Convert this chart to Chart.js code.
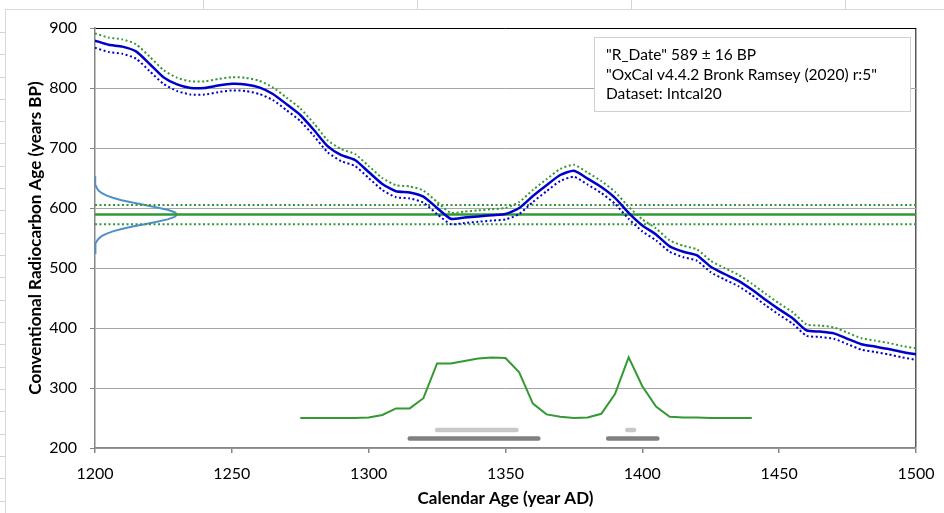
<!DOCTYPE html>
<html>
<head>
<meta charset="utf-8">
<script src="https://cdn.jsdelivr.net/npm/chart.js@4.4.0/dist/chart.umd.min.js"></script>
<style>
body { margin: 0; width: 944px; height: 513px; overflow: hidden; background: #fff; position: relative; }
.vline { position: absolute; top: 0; width: 1px; height: 9px; background: #d4d4d4; }
.hline { position: absolute; left: 0; width: 5px; height: 1px; background: #d4d4d4; }
#wrap { position: absolute; left: 5px; top: 9px; width: 939px; height: 504px; box-sizing: border-box;
	border-left: 1px solid #d9d9d9; border-top: 1px solid #d9d9d9; background: #fff; }
</style>
</head>
<body>
<div class="vline" style="left:203px"></div>
<div class="vline" style="left:417px"></div>
<div class="vline" style="left:631px"></div>
<div class="vline" style="left:845px"></div>
<div class="hline" style="top:32px"></div>
<div class="hline" style="top:54px"></div>
<div class="hline" style="top:77px"></div>
<div class="hline" style="top:99px"></div>
<div class="hline" style="top:121px"></div>
<div class="hline" style="top:143px"></div>
<div class="hline" style="top:166px"></div>
<div class="hline" style="top:188px"></div>
<div class="hline" style="top:210px"></div>
<div class="hline" style="top:233px"></div>
<div class="hline" style="top:255px"></div>
<div class="hline" style="top:277px"></div>
<div class="hline" style="top:300px"></div>
<div class="hline" style="top:322px"></div>
<div class="hline" style="top:344px"></div>
<div class="hline" style="top:367px"></div>
<div class="hline" style="top:389px"></div>
<div class="hline" style="top:411px"></div>
<div class="hline" style="top:434px"></div>
<div class="hline" style="top:456px"></div>
<div class="hline" style="top:478px"></div>
<div class="hline" style="top:501px"></div>
<div id="wrap"><canvas id="graph_oxcal" width="938" height="503"></canvas></div>
<script>
// calibration curve (IntCal20), 5 year steps
var years = [1200, 1205, 1210, 1215, 1220, 1225, 1230, 1235, 1240, 1245,
	1250, 1255, 1260, 1265, 1270, 1275, 1280, 1285, 1290, 1295,
	1300, 1305, 1310, 1315, 1320, 1325, 1330, 1335, 1340, 1345,
	1350, 1355, 1360, 1365, 1370, 1375, 1380, 1385, 1390, 1395,
	1400, 1405, 1410, 1415, 1420, 1425, 1430, 1435, 1440, 1445,
	1450, 1455, 1460, 1465, 1470, 1475, 1480, 1485, 1490, 1495, 1500];
var calCurve = [879, 872, 869, 861, 840, 818, 806, 800, 800, 804,
	807, 806, 801, 790, 773, 755, 730, 703, 688, 680,
	660, 640, 628, 626, 619, 600, 582, 584, 586, 588,
	590, 600, 620, 638, 655, 662, 649, 635, 617, 592,
	571, 556, 536, 527, 521, 502, 490, 479, 464, 447,
	431, 416, 396, 394, 391, 382, 373, 369, 365, 360, 356];
var calUpper = [891, 884, 881, 873, 852, 830, 817, 811, 811, 815,
	818, 817, 812, 801, 784, 766, 741, 713, 698, 690,
	670, 650, 638, 636, 629, 610, 592, 594, 596, 598,
	600, 610, 630, 648, 665, 672, 659, 645, 627, 602,
	581, 566, 546, 537, 531, 512, 500, 489, 474, 457,
	441, 426, 406, 404, 401, 392, 383, 379, 375, 370, 366];
var calLower = [867, 860, 857, 849, 828, 807, 795, 789, 789, 793,
	796, 795, 790, 780, 763, 745, 720, 693, 678, 670,
	650, 630, 618, 616, 609, 590, 573, 575, 577, 579,
	581, 590, 610, 628, 645, 652, 639, 625, 607, 582,
	561, 546, 527, 518, 512, 493, 481, 470, 455, 438,
	422, 407, 387, 385, 382, 373, 364, 360, 356, 351, 347];

// radiocarbon date
var dateMean = 589;
var dateSigma = 16;
var dateAgeBP = [525, 529, 533, 537, 541, 545, 549, 553, 557, 561, 565, 569, 573, 577, 581, 585,
	589, 593, 597, 601, 605, 609, 613, 617, 621, 625, 629, 633, 637, 641, 645, 649, 653];
var dateProb = [1200.0, 1200.0, 1200.1, 1200.2, 1200.3, 1200.7, 1201.3, 1202.4, 1204.1, 1206.5, 1209.7, 1213.7, 1218.2, 1222.6, 1226.5, 1229.1,
	1230.0, 1229.1, 1226.5, 1222.6, 1218.2, 1213.7, 1209.7, 1206.5, 1204.1, 1202.4, 1201.3, 1200.7, 1200.3, 1200.2, 1200.1, 1200.0, 1200.0];

// calibrated distribution
var calYears = [1275, 1280, 1285, 1290, 1295, 1300, 1305, 1310, 1315, 1320,
	1325, 1330, 1335, 1340, 1345, 1350, 1355, 1360, 1365, 1370,
	1375, 1380, 1385, 1390, 1395, 1400, 1405, 1410, 1415, 1420,
	1425, 1430, 1435, 1440];
var calProb = [250, 250, 250, 250, 250, 251, 255, 266, 266, 283,
	341, 341, 345, 349, 351, 350, 326, 274, 256, 252,
	250, 251, 257, 290, 351, 303, 269, 252, 251, 251,
	250, 250, 250, 250];

// highest density ranges
var range68 = [[1325, 1354], [1394.5, 1397]];
var range95 = [[1315, 1362], [1387.5, 1405.5]];
var range68Level = 230;
var range95Level = 216;

var infoLines = [
	'"R_Date" ' + dateMean + ' \u00b1 ' + dateSigma + ' BP',
	'"OxCal v4.4.2 Bronk Ramsey (2020) r:5"',
	'Dataset: Intcal20'
];

function toPoints(xs, ys){
	return xs.map(function(x, i){ return {x: x, y: ys[i]}; });
}

function toSegments(list, level){
	var out = [];
	list.forEach(function(r, i){
		if(i > 0){
			out.push({x: r[0], y: null});
		}
		out.push({x: r[0], y: level});
		out.push({x: r[1], y: level});
	});
	return out;
}

function flatLine(value){
	return [{x: 1200, y: value}, {x: 1500, y: value}];
}

//drop the label overhang padding so layout.padding alone places the plot area
function noOverhang(scale){
	scale.paddingTop = 0;
	scale.paddingBottom = 0;
	scale.paddingLeft = 0;
	scale.paddingRight = 0;
}

var GREEN = '#339933';
var BLUE = '#0000cc';
var DOTS = [2, 2.5];

var infoBox = {
	id: 'infoBox',
	afterDraw: function(chart){
		var ctx = chart.ctx;
		var a = chart.chartArea;
		var w = 316, h = 74;
		var x = a.right - 6 - w;
		var y = a.top + 9;
		ctx.save();
		ctx.fillStyle = '#fff';
		ctx.fillRect(x, y, w, h);
		ctx.strokeStyle = '#d0d0d0';
		ctx.lineWidth = 1;
		ctx.strokeRect(x + 0.5, y + 0.5, w, h);
		ctx.fillStyle = '#000';
		ctx.font = '15.5px Lato';
		ctx.textBaseline = 'middle';
		infoLines.forEach(function(line, i){
			ctx.fillText(line, x + 12, y + 18 + i * 19.5);
		});
		ctx.restore();
	}
};

var graph_oxcal_config = {
	type: 'scatter',
	data: {
		datasets: [{
			label: 'Calibration curve',
			data: toPoints(years, calCurve),
			borderColor: BLUE,
			borderWidth: 2.5,
			tension: 0.2
		},{
			label: 'Calibration +1 sigma',
			data: toPoints(years, calUpper),
			borderColor: GREEN,
			borderWidth: 2,
			borderDash: DOTS,
			tension: 0.2
		},{
			label: 'Calibration -1 sigma',
			data: toPoints(years, calLower),
			borderColor: BLUE,
			borderWidth: 2,
			borderDash: DOTS,
			tension: 0.2
		},{
			label: 'R_Date',
			data: flatLine(dateMean),
			borderColor: GREEN,
			borderWidth: 2.5
		},{
			label: 'R_Date +1 sigma',
			data: flatLine(dateMean + dateSigma),
			borderColor: GREEN,
			borderWidth: 2,
			borderDash: DOTS
		},{
			label: 'R_Date -1 sigma',
			data: flatLine(dateMean - dateSigma),
			borderColor: GREEN,
			borderWidth: 2,
			borderDash: DOTS
		},{
			label: 'R_Date probability',
			data: toPoints(dateProb, dateAgeBP),
			borderColor: '#4f8fcc',
			borderWidth: 2
		},{
			label: 'Calibrated probability',
			data: toPoints(calYears, calProb),
			borderColor: GREEN,
			borderWidth: 2
		},{
			label: '68.3%',
			data: toSegments(range68, range68Level),
			borderColor: '#c8c8c8',
			borderWidth: 4.5,
			borderCapStyle: 'round'
		},{
			label: '95.4%',
			data: toSegments(range95, range95Level),
			borderColor: '#808080',
			borderWidth: 4.5,
			borderCapStyle: 'round'
		}]
	},
	options: {
		responsive: false,
		animation: false,
		showLine: true,
		spanGaps: false,
		layout: {
			padding: {top: 18, right: 28, left: 0, bottom: 0}
		},
		elements: {
			point: { radius: 0, hoverRadius: 0 },
			line: { fill: false }
		},
		scales: {
			x: {
				type: 'linear',
				min: 1200,
				max: 1500,
				afterFit: function(scale){
					scale.height = 65;
					noOverhang(scale);
				},
				ticks: {
					stepSize: 50,
					color: '#000',
					font: { family: 'Lato', size: 16 },
					padding: 11,
					maxRotation: 0,
					callback: function(value){ return String(value); }
				},
				grid: {
					color: function(context){
						return context.tick && context.tick.value === 1500 ? '#595959' : 'rgba(0,0,0,0)';
					},
					tickColor: '#868686',
					tickLength: 5,
					lineWidth: 1.5
				},
				border: { color: '#868686', width: 1.5 },
				title: {
					display: true,
					text: 'Calendar Age (year AD)',
					color: '#000',
					font: { family: 'Lato', size: 17, weight: 'bold' },
					padding: { top: 0, bottom: 4 }
				}
			},
			y: {
				type: 'linear',
				min: 200,
				max: 900,
				afterFit: function(scale){
					scale.width = 89;
					noOverhang(scale);
				},
				ticks: {
					stepSize: 100,
					color: '#000',
					font: { family: 'Lato', size: 16 },
					padding: 13
				},
				grid: {
					color: function(context){
						return context.tick && context.tick.value === 900 ? '#000' : '#a6a6a6';
					},
					tickColor: '#868686',
					tickLength: 5,
					lineWidth: 1
				},
				border: { color: '#868686', width: 1.5 },
				title: {
					display: true,
					text: 'Conventional Radiocarbon Age (years BP)',
					color: '#000',
					font: { family: 'Lato', size: 17, weight: 'bold' },
					padding: { top: 19, bottom: 0 }
				}
			}
		},
		plugins: {
			legend: { display: false },
			tooltip: { enabled: false }
		}
	},
	plugins: [infoBox]
};

var graph_oxcal;

document.addEventListener("DOMContentLoaded", function(){
	graph_oxcal = new Chart(document.getElementById("graph_oxcal").getContext('2d'), graph_oxcal_config);
});
</script>
</body>
</html>
